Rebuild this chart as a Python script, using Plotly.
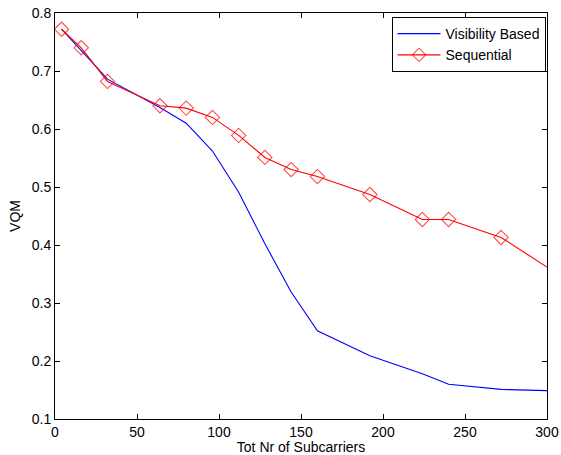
import plotly.graph_objects as go

# Number of subcarriers at which both schemes were evaluated
subcarriers = [4, 16, 32, 64, 80, 96, 112, 128, 144, 160, 192, 224, 240, 272, 300]

# VQM for the visibility-based allocation
vqm_visibility = [0.772, 0.735, 0.686, 0.637, 0.610, 0.562, 0.491, 0.402, 0.319,
                  0.252, 0.209, 0.178, 0.160, 0.151, 0.149]

# VQM for the sequential allocation
vqm_sequential = [0.772, 0.740, 0.682, 0.640, 0.636, 0.620, 0.589, 0.551, 0.530,
                  0.518, 0.487, 0.444, 0.444, 0.413, 0.362]

x_ticks = [0, 50, 100, 150, 200, 250, 300]
y_ticks = [0.1, 0.2, 0.3, 0.4, 0.5, 0.6, 0.7, 0.8]
y_tick_text = ["0.1", "0.2", "0.3", "0.4", "0.5", "0.6", "0.7", "0.8"]

font_family = "Liberation Sans, Arial, Helvetica, sans-serif"

fig = go.Figure()

fig.add_trace(go.Scatter(
    x=subcarriers, y=vqm_visibility, mode="lines", name="Visibility Based",
    line=dict(color="#0000ff", width=1.1),
))

# the last sample sits on the axis edge and carries no marker
marker_sizes = [11] * (len(subcarriers) - 1) + [0]
fig.add_trace(go.Scatter(
    x=subcarriers, y=vqm_sequential, mode="lines+markers", name="Sequential",
    line=dict(color="#ff0000", width=1.1),
    marker=dict(symbol="diamond-open", size=marker_sizes, color="#ff0000",
                line=dict(width=1.1, color="#ff0000")),
))

axis_common = dict(
    showline=True, linecolor="black", linewidth=1, mirror="ticks",
    ticks="inside", ticklen=5, tickwidth=1, tickcolor="black",
    showgrid=False, zeroline=False, automargin=False,
    tickfont=dict(family=font_family, size=14, color="black"),
)

fig.update_layout(
    width=561, height=455,
    margin=dict(l=55, r=14, t=13, b=36),
    paper_bgcolor="white", plot_bgcolor="white",
    font=dict(family=font_family, size=14, color="black"),
    xaxis=dict(range=[0, 300], tickvals=x_ticks, **axis_common,
               title=dict(text="Tot Nr of Subcarriers", standoff=0,
                          font=dict(family=font_family, size=14))),
    yaxis=dict(range=[0.1, 0.8], tickvals=y_ticks, ticktext=y_tick_text, **axis_common,
               title=dict(text="VQM", standoff=7,
                          font=dict(family=font_family, size=14))),
    legend=dict(x=0.997, y=0.99, xanchor="right", yanchor="top",
                bgcolor="white", bordercolor="black", borderwidth=1,
                font=dict(family=font_family, size=14), itemwidth=43,
                tracegroupgap=0),
    showlegend=True,
)

fig.write_html("out.html")
